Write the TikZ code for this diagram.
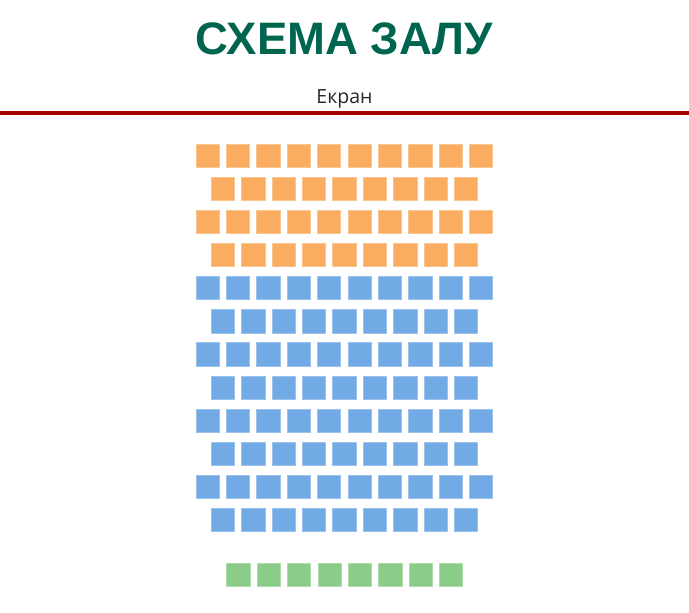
\documentclass[tikz,border=0pt]{standalone}
\usepackage{fontspec}
\setmainfont{Liberation Sans}
\newfontfamily\ekranfont{Open Sans}
\definecolor{titlecol}{HTML}{00654F}
\definecolor{screencol}{HTML}{A50000}
\definecolor{orangeseat}{HTML}{FAAC60}
\definecolor{blueseat}{HTML}{72AAE5}
\definecolor{greenseat}{HTML}{8BCD88}
\begin{document}
\begin{tikzpicture}[x=1pt,y=1pt,
  seat/.style={minimum size=23.3pt,inner sep=0pt,outer sep=0pt,draw=#1!70!white,line width=0.6pt,fill=#1},
  every node/.style={inner sep=0pt,outer sep=0pt}]
\useasboundingbox (0,0) rectangle (689,613);
\node[anchor=base,font=\bfseries\fontsize{45.5}{45.5}\selectfont,text=titlecol] (title) at (344.5,558) {СХЕМА ЗАЛУ};
\node[anchor=base,font=\ekranfont\fontsize{19.5}{19.5}\selectfont,text=black!85] (ekran) at (344.5,509) {Екран};
\coordinate (sl) at (0,500);
\coordinate (sr) at (689,500);
\draw[screencol,line width=4.2pt] (sl) -- (sr);
% rows: row index r=0..11, y top = 144 + 33.12 r
\foreach \r in {0,...,11}{
  \pgfmathsetmacro{\yc}{613-(144+33.12*\r+11.65)}
  \pgfmathtruncatemacro{\odd}{mod(\r,2)}
  \pgfmathsetmacro{\col}{\r<4 ? 1 : 0}
  \ifnum\odd=0
    \foreach \c in {0,...,9}{
      \pgfmathsetmacro{\xc}{196+30.37*\c+11.65}
      \ifdim\col pt>0.5pt
        \node[seat=orangeseat] (s-\r-\c) at (\xc,\yc) {};
      \else
        \node[seat=blueseat] (s-\r-\c) at (\xc,\yc) {};
      \fi
    }
  \else
    \foreach \c in {0,...,8}{
      \pgfmathsetmacro{\xc}{211.3+30.37*\c+11.65}
      \ifdim\col pt>0.5pt
        \node[seat=orangeseat] (s-\r-\c) at (\xc,\yc) {};
      \else
        \node[seat=blueseat] (s-\r-\c) at (\xc,\yc) {};
      \fi
    }
  \fi
}
\foreach \c in {0,...,7}{
  \pgfmathsetmacro{\xc}{226.7+30.37*\c+11.65}
  \node[seat=greenseat] (g-\c) at (\xc,{613-575}) {};
}
\end{tikzpicture}
\end{document}
